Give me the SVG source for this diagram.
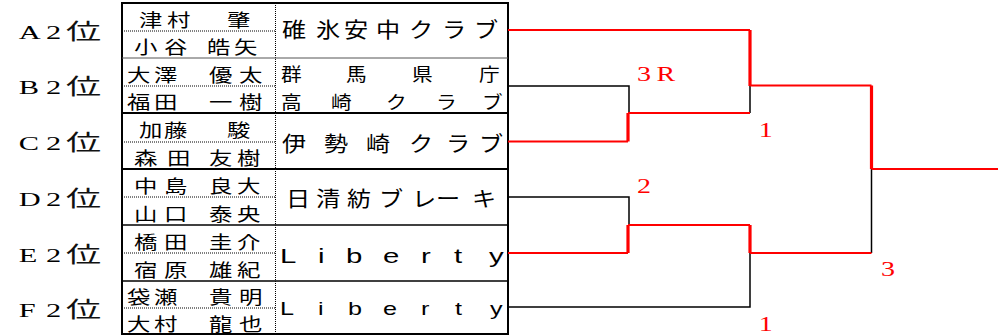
<svg xmlns="http://www.w3.org/2000/svg" width="998" height="336" viewBox="0 0 998 336">
<style>
.lbl{font-family:"Liberation Serif","Noto Sans CJK JP",serif;font-size:19px;fill:#000}
.big{font-family:"Noto Sans CJK JP",sans-serif;font-size:22px;fill:#111}
.nm{font-family:"Noto Sans CJK JP",sans-serif;font-size:18px;fill:#000}
.tm{font-family:"Noto Sans CJK JP",sans-serif;font-size:21px;fill:#000}
.tm2{font-family:"Noto Sans CJK JP",sans-serif;font-size:18px;fill:#000}
.lib{font-family:"Liberation Sans",sans-serif;font-size:21px;fill:#000}
.lib2{font-family:"Liberation Sans",sans-serif;font-size:18px;fill:#000}
.rd{font-family:"Liberation Serif",serif;font-size:20px;fill:#f00}
.dot{stroke:#000;stroke-width:1;stroke-dasharray:1 1;fill:none}
.rh{stroke:#f00;stroke-width:2.2;fill:none}
.rv{stroke:#f00;stroke-width:3.2;fill:none}
.bk{stroke:#000;stroke-width:1.5;fill:none}
</style>
<g id="table">
<rect x="122" y="3" width="386" height="331" fill="#fff" stroke="#000" stroke-width="2"/>
<line x1="275.5" y1="3" x2="275.5" y2="334" class="dot"/>
<line x1="122" y1="58" x2="508" y2="58" stroke="#555" stroke-width="1"/>
<line x1="122" y1="113" x2="508" y2="113" stroke="#000" stroke-width="2"/>
<line x1="122" y1="169" x2="508" y2="169" stroke="#000" stroke-width="2"/>
<line x1="122" y1="225" x2="508" y2="225" stroke="#000" stroke-width="1.5"/>
<line x1="122" y1="281" x2="508" y2="281" stroke="#000" stroke-width="1.5"/>
<line x1="122" y1="31" x2="275" y2="31" class="dot"/>
<line x1="122" y1="86" x2="275" y2="86" class="dot"/>
<line x1="122" y1="142" x2="275" y2="142" class="dot"/>
<line x1="122" y1="197" x2="275" y2="197" class="dot"/>
<line x1="122" y1="253" x2="275" y2="253" class="dot"/>
<line x1="122" y1="308" x2="275" y2="308" class="dot"/>
</g>
<g id="entry-A">
<text class="lbl" transform="scale(1.6,1)" x="11.8 22 28.8" y="39">A 2<tspan class="big" x="41.3">位</tspan></text>
<text class="nm" transform="scale(1.3,1)" x="106.9 128.5 151.5 174.6" y="27">津村　肇</text>
<text class="nm" transform="scale(1.3,1)" x="103.1 126.2 142.3 159.2 180" y="54.5">小谷　皓矢</text>
<text class="tm" transform="scale(1.15,1)" x="245.2 274.8 299.1 327.0 355.7 384.3 412.2" y="37">碓氷安中クラブ</text>
</g>
<g id="entry-B">
<text class="lbl" transform="scale(1.6,1)" x="11.8 22 28.8" y="94">B 2<tspan class="big" x="41.3">位</tspan></text>
<text class="nm" transform="scale(1.3,1)" x="97.7 118.5 138.5 160.8 183.8" y="82">大澤　優太</text>
<text class="nm" transform="scale(1.3,1)" x="97.7 118.5 138.5 160.8 183.8" y="109.5">福田　一樹</text>
<text class="tm2" transform="scale(1.15,1)" x="244.3 300.9 358.3 416.5" y="81">群馬県庁</text>
<text class="tm2" transform="scale(1.15,1)" x="244.3 287.8 335.7 379.1 419.1" y="109">高崎クラブ</text>
</g>
<g id="entry-C">
<text class="lbl" transform="scale(1.6,1)" x="11.8 22 28.8" y="150">C 2<tspan class="big" x="41.3">位</tspan></text>
<text class="nm" transform="scale(1.3,1)" x="106.9 126.2 150.8 174.6" y="137">加藤　駿</text>
<text class="nm" transform="scale(1.3,1)" x="103.1 128.5 144.6 160.8 182.3" y="165">森田　友樹</text>
<text class="tm" transform="scale(1.15,1)" x="245.2 281.7 318.3 355.7 387.8 416.5" y="151">伊勢崎クラブ</text>
</g>
<g id="entry-D">
<text class="lbl" transform="scale(1.6,1)" x="11.8 22 28.8" y="206">D 2<tspan class="big" x="41.3">位</tspan></text>
<text class="nm" transform="scale(1.3,1)" x="103.1 126.2 143.8 160.8 182.3" y="193">中島　良大</text>
<text class="nm" transform="scale(1.3,1)" x="103.1 126.2 143.8 160.8 182.3" y="221">山口　泰央</text>
<text class="tm" transform="scale(1.15,1)" x="248.7 274.8 301.7 329.6 358.3 379.1 410.4" y="206">日清紡ブレーキ</text>
</g>
<g id="entry-E">
<text class="lbl" transform="scale(1.6,1)" x="11.8 22 28.8" y="262">E 2<tspan class="big" x="41.3">位</tspan></text>
<text class="nm" transform="scale(1.3,1)" x="103.1 126.2 143.8 160.8 182.3" y="249">橋田　圭介</text>
<text class="nm" transform="scale(1.3,1)" x="103.1 126.2 143.8 160.8 182.3" y="277">宿原　雄紀</text>
<text class="lib" transform="scale(1.4,1)" x="200 227.1 247.1 273.6 300.7 324.3 349.3" y="263">Liberty</text>
</g>
<g id="entry-F">
<text class="lbl" transform="scale(1.6,1)" x="11.8 22 28.8" y="317">F 2<tspan class="big" x="41.3">位</tspan></text>
<text class="nm" transform="scale(1.3,1)" x="97.7 118.5 140 160.8 183.8" y="304.5">袋瀬　貴明</text>
<text class="nm" transform="scale(1.3,1)" x="97.7 118.5 140 160.8 183.8" y="331">大村　龍也</text>
<text class="lib2" transform="scale(1.4,1)" x="200 227.1 248.6 273.6 300.7 325 350" y="315">Liberty</text>
</g>
<g id="connectors">
<path class="bk" d="M508 86H629V113" stroke-width="1.2"/>
<path class="bk" d="M750 86V113" stroke-width="2"/>
<path class="bk" d="M508 197H629V225"/>
<path class="bk" d="M508 307H750V253"/>
<path class="bk" d="M871.5 169V253" stroke-width="2"/>
<path class="rh" d="M508 30H750" stroke-width="3"/>
<path class="rv" d="M750 30V86"/>
<path class="rh" d="M750 85.5H871.5" stroke-width="2.7"/>
<path class="rv" d="M871.5 85.5V169"/>
<path class="rh" d="M871.5 169H998"/>
<path class="rh" d="M508 141.5H628"/>
<path class="rv" d="M628 141.5V113"/>
<path class="rh" d="M628 113H750" stroke-width="1.8"/>
<path class="rh" d="M508 253H628"/>
<path class="rv" d="M628 253V225"/>
<path class="rh" d="M628 225H750"/>
<path class="rv" d="M750 225V253"/>
<path class="rh" d="M750 253H871.5" stroke-width="2"/>
</g>
<g id="scores">
<text class="rd" transform="scale(1.4,1)" x="455 469" y="81">3R</text>
<text class="rd" transform="scale(1.4,1)" x="542" y="137">1</text>
<text class="rd" transform="scale(1.4,1)" x="455" y="193">2</text>
<text class="rd" transform="scale(1.4,1)" x="542" y="331">1</text>
<text class="rd" transform="scale(1.4,1)" x="629.3" y="276">3</text>
</g>
</svg>
